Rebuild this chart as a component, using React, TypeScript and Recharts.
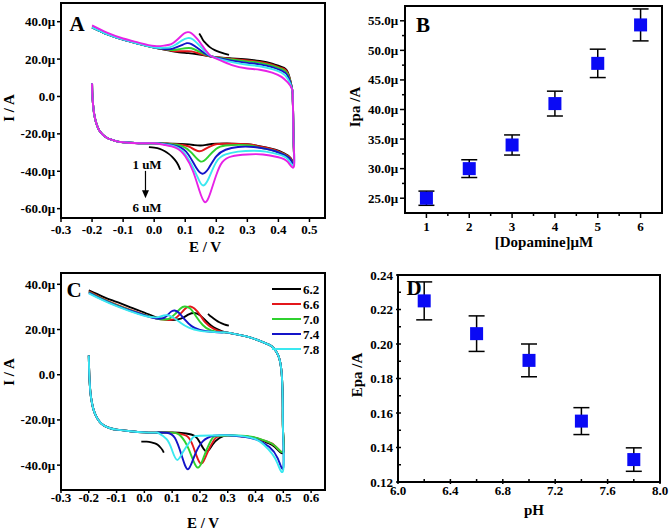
import React from 'react';
import { ComposedChart, ScatterChart, Line, Scatter, XAxis, YAxis, ReferenceArea, ErrorBar, Legend } from 'recharts';

const FONT = '"Liberation Serif", "Times New Roman", Times, serif';
type P = [number, number];
const toPts = (a: P[]) => a.map(([x, y]) => ({ x, y }));

// ---------- colours ----------
const BLACK = '#000000';
const RED = '#e3171b';
const GREEN = '#2fd12f';
const BLUE = '#1414c8';
const CYAN = '#3ae8f0';
const MAGENTA = '#e622e6';
const CURVE = 'natural';

// ---------- Panel A : CV at 1..6 uM dopamine (E / V, I / uA) ----------
const A_X_DOMAIN: [number, number] = [-0.3, 0.55];
const A_Y_DOMAIN: [number, number] = [-65, 50];
const A_X_TICKS = [-0.3, -0.2, -0.1, 0, 0.1, 0.2, 0.3, 0.4, 0.5];
const A_Y_TICKS = [-60, -40, -20, 0, 20, 40];

const A_LOW_START: P[] = [[-0.2, 7], [-0.199, 1], [-0.197, -4], [-0.194, -8.5], [-0.19, -12], [-0.185, -15], [-0.178, -17.8], [-0.168, -20], [-0.155, -21.8], [-0.14, -23], [-0.12, -24], [-0.1, -24.5], [-0.05, -25], [0.0, -25]];
const A_RISE: P[] = [[0.449, -25], [0.448, -15], [0.447, -6], [0.446, 0], [0.444, 4]];
const A_UP_END: P[] = [[0.0, 26.2], [-0.05, 28.2], [-0.1, 30.4], [-0.15, 33.2], [-0.2, 37]];

const A_BLACK: P[] = [...A_LOW_START, [0.05, -25.2], [0.1, -25.5], [0.13, -26], [0.15, -26.2], [0.17, -25.8], [0.2, -25.3], [0.25, -25.2], [0.3, -25.5], [0.33, -26.3], [0.36, -27.3], [0.39, -28.5], [0.42, -30.5], [0.44, -33], [0.45, -35], ...A_RISE,
  [0.43, 13], [0.41, 15.8], [0.38, 17.6], [0.34, 19], [0.3, 19.8], [0.25, 20.4], [0.2, 21], [0.17, 21.8], [0.14, 22.6], [0.11, 23.2], [0.08, 23.6], [0.05, 24.5], ...A_UP_END];
const A_RED: P[] = [...A_LOW_START, [0.05, -25.3], [0.1, -26.2], [0.12, -27.5], [0.145, -29.3], [0.165, -28], [0.19, -26], [0.22, -25.3], [0.3, -25.5], [0.33, -26.4], [0.36, -27.4], [0.39, -28.7], [0.42, -30.8], [0.44, -33.3], [0.45, -35.5], ...A_RISE,
  [0.43, 12.5], [0.41, 15.2], [0.38, 17], [0.34, 18.5], [0.3, 19.3], [0.25, 20.1], [0.2, 21], [0.17, 21.8], [0.145, 23], [0.12, 24.1], [0.1, 24.2], [0.07, 24.2], [0.05, 24.7], ...A_UP_END];
const A_GREEN: P[] = [...A_LOW_START, [0.05, -25.4], [0.09, -26.5], [0.12, -30], [0.15, -34.8], [0.175, -32], [0.2, -28], [0.23, -26.2], [0.3, -26], [0.33, -27], [0.36, -28], [0.39, -29.2], [0.42, -31.2], [0.44, -33.8], [0.45, -36], ...A_RISE,
  [0.43, 12], [0.41, 14.7], [0.38, 16.5], [0.34, 18], [0.3, 18.8], [0.25, 19.8], [0.2, 20.9], [0.17, 22], [0.145, 24], [0.12, 25.8], [0.1, 25.8], [0.07, 25], [0.05, 25], ...A_UP_END];
const A_BLUE: P[] = [...A_LOW_START, [0.04, -25.5], [0.08, -27], [0.11, -31], [0.135, -38], [0.155, -41.3], [0.175, -38.5], [0.2, -32], [0.23, -28.5], [0.27, -27], [0.32, -27], [0.36, -28], [0.39, -29.3], [0.42, -31.4], [0.44, -34], [0.45, -36], ...A_RISE,
  [0.43, 11], [0.41, 13.8], [0.38, 15.7], [0.34, 17.2], [0.3, 18], [0.25, 19.2], [0.2, 20.7], [0.17, 22.3], [0.145, 25.3], [0.12, 28], [0.105, 28.5], [0.085, 27.2], [0.06, 25.6], [0.04, 25.3], ...A_UP_END];
const A_CYAN: P[] = [...A_LOW_START, [0.03, -25.5], [0.07, -27], [0.1, -31], [0.125, -38], [0.145, -45], [0.158, -47.6], [0.175, -44], [0.2, -35], [0.23, -31], [0.27, -29.5], [0.32, -29], [0.36, -29.5], [0.4, -31], [0.43, -33.5], [0.45, -36.5], ...A_RISE,
  [0.43, 9.5], [0.41, 12.7], [0.38, 14.6], [0.34, 16.2], [0.3, 17], [0.25, 18.4], [0.2, 20.5], [0.175, 22.4], [0.15, 26.5], [0.125, 30.5], [0.108, 31.2], [0.09, 30], [0.07, 27.8], [0.05, 26.3], [0.03, 26], ...A_UP_END];
const A_MAGENTA: P[] = [...A_LOW_START, [0.03, -25.8], [0.07, -27.5], [0.1, -32], [0.125, -40], [0.145, -50], [0.163, -56.5], [0.18, -52], [0.2, -42], [0.22, -35], [0.25, -32], [0.3, -31], [0.35, -31], [0.4, -32.5], [0.43, -35], [0.45, -37.5], ...A_RISE,
  [0.43, 7.5], [0.41, 10.5], [0.38, 12.8], [0.34, 14.3], [0.3, 15], [0.25, 16.8], [0.2, 20.3], [0.18, 22], [0.16, 26], [0.14, 30.5], [0.12, 33.8], [0.108, 34.4], [0.095, 33.5], [0.075, 30.5], [0.055, 28], [0.035, 27.3], [0.0, 27], [-0.05, 28.8], [-0.1, 31], [-0.15, 34], [-0.2, 38]];

const A_SERIES = [
  { name: '1 uM', color: BLACK, pts: A_BLACK },
  { name: '2 uM', color: RED, pts: A_RED },
  { name: '3 uM', color: GREEN, pts: A_GREEN },
  { name: '4 uM', color: BLUE, pts: A_BLUE },
  { name: '5 uM', color: CYAN, pts: A_CYAN },
  { name: '6 uM', color: MAGENTA, pts: A_MAGENTA },
];
const A_ARROW_UP: P[] = [[0.145, 33.7], [0.152, 31.8], [0.158, 30], [0.167, 28.3], [0.179, 26.4], [0.195, 24.8], [0.211, 23.7], [0.226, 22.9], [0.241, 22.3]];
const A_ARROW_LOW: P[] = [[-0.017, -27.1], [0.0, -27.4], [0.018, -28], [0.033, -29.2], [0.047, -30.7], [0.058, -32.3], [0.068, -34.2], [0.077, -36.5], [0.084, -39.2]];
const A_ARROW_VERT: P[] = [[-0.028, -39.8], [-0.028, -52]];
const A_ARROW_HEAD: P[] = [[-0.028, -54.5]];

// ---------- Panel B : Ipa vs [Dopamine] ----------
const B_CONC = [1, 2, 3, 4, 5, 6];
const B_IPA = [25.0, 30.0, 34.0, 41.0, 47.8, 54.3];
const B_ERR = [1.2, 1.5, 1.7, 2.1, 2.4, 2.7];
const B_X_DOMAIN: [number, number] = [0.5, 6.5];
const B_Y_DOMAIN: [number, number] = [22.5, 57.5];
const B_X_MAJOR = [1, 2, 3, 4, 5, 6];
const B_X_MINOR = [1.5, 2.5, 3.5, 4.5, 5.5];
const B_Y_MAJOR = [25, 30, 35, 40, 45, 50, 55];
const B_Y_MINOR = [27.5, 32.5, 37.5, 42.5, 47.5, 52.5];

// ---------- Panel C : CV at different pH ----------
const C_X_DOMAIN: [number, number] = [-0.3, 0.65];
const C_Y_DOMAIN: [number, number] = [-51, 45];
const C_X_TICKS = [-0.3, -0.2, -0.1, 0, 0.1, 0.2, 0.3, 0.4, 0.5, 0.6];
const C_Y_TICKS = [-40, -20, 0, 20, 40];
const C_LABELS = ['6.2', '6.6', '7.0', '7.4', '7.8'];
const C_COLORS = [BLACK, RED, GREEN, BLUE, CYAN];

const C_LOW_START: P[] = [[-0.2, 8.5], [-0.199, 3], [-0.197, -3], [-0.194, -8], [-0.19, -11.5], [-0.184, -15], [-0.175, -18], [-0.163, -20.5], [-0.145, -22.5], [-0.12, -23.8], [-0.1, -24.3], [-0.05, -25], [0.0, -25.5], [0.04, -25.6]];
const C_RISE: P[] = [[0.499, -25], [0.498, -15], [0.497, -7], [0.495, -1], [0.492, 3], [0.487, 6.5], [0.478, 9.5], [0.465, 11.8], [0.45, 13.2], [0.42, 14.8], [0.38, 16.5], [0.35, 17.4], [0.3, 18.6]];

const C_62: P[] = [...C_LOW_START, [0.1, -25.5], [0.15, -26], [0.18, -27], [0.2, -30], [0.223, -34], [0.245, -31], [0.27, -28], [0.3, -26.8], [0.35, -27.2], [0.4, -28], [0.44, -30], [0.47, -32], [0.5, -34.5], ...C_RISE,
  [0.28, 19.2], [0.26, 20.3], [0.24, 21.8], [0.22, 24], [0.2, 26.3], [0.18, 27.3], [0.16, 26.7], [0.14, 25.3], [0.12, 24.5], [0.1, 24.2], [0.07, 24.6], [0.04, 25.5], [0.0, 27.5], [-0.05, 29.8], [-0.1, 32.2], [-0.15, 34.6], [-0.2, 37.3]];
const C_66: P[] = [...C_LOW_START, [0.1, -25.6], [0.14, -26.5], [0.17, -30], [0.2, -39], [0.225, -35], [0.25, -29], [0.28, -27], [0.35, -27.2], [0.4, -28], [0.44, -29.5], [0.47, -31.5], [0.5, -34], ...C_RISE,
  [0.28, 19], [0.25, 20.3], [0.22, 23], [0.2, 26.5], [0.18, 29.3], [0.165, 30.2], [0.15, 29.5], [0.13, 27], [0.11, 24.8], [0.09, 24.2], [0.06, 24.5], [0.03, 25.3], [0.0, 26.6], [-0.05, 28.7], [-0.1, 31], [-0.15, 33.7], [-0.2, 36.9]];
const C_70: P[] = [...C_LOW_START, [0.1, -25.6], [0.13, -27], [0.16, -33], [0.19, -41], [0.215, -36], [0.24, -29], [0.27, -27], [0.35, -27], [0.4, -27.8], [0.44, -29.5], [0.47, -31.5], [0.5, -34], ...C_RISE,
  [0.28, 18.8], [0.24, 19.6], [0.21, 22], [0.185, 26], [0.165, 29.3], [0.145, 30.2], [0.13, 29.3], [0.11, 26.8], [0.09, 24.8], [0.07, 24.4], [0.04, 25], [0.0, 26.5], [-0.05, 28.5], [-0.1, 30.8], [-0.15, 33.5], [-0.2, 36.6]];
const C_74: P[] = [...C_LOW_START, [0.08, -25.7], [0.11, -28], [0.135, -36], [0.157, -41.8], [0.18, -36], [0.21, -29.5], [0.25, -27], [0.3, -26.8], [0.36, -27.5], [0.41, -29], [0.45, -32], [0.48, -37], [0.5, -41], ...C_RISE,
  [0.28, 18.7], [0.24, 19], [0.2, 19.8], [0.17, 21.5], [0.145, 24.5], [0.125, 27.3], [0.109, 28.4], [0.095, 27.8], [0.08, 26], [0.06, 24.8], [0.03, 25.2], [0.0, 26.3], [-0.05, 28.3], [-0.1, 30.6], [-0.15, 33.2], [-0.2, 36.3]];
const C_78: P[] = [...C_LOW_START, [0.05, -25.8], [0.08, -28.5], [0.1, -33.5], [0.118, -37.7], [0.14, -34], [0.17, -28.5], [0.2, -27], [0.3, -26.8], [0.36, -27.3], [0.4, -28.5], [0.43, -31], [0.46, -35], [0.48, -39.5], [0.5, -42], ...C_RISE,
  [0.28, 18.7], [0.24, 19], [0.2, 19.4], [0.16, 20.8], [0.13, 23], [0.105, 25.2], [0.085, 26.3], [0.07, 26.2], [0.05, 25.5], [0.03, 25.4], [0.0, 26], [-0.05, 28], [-0.1, 30.3], [-0.15, 33], [-0.2, 36]];
const C_SERIES_PTS = [C_62, C_66, C_70, C_74, C_78];
const C_ARROW_UP: P[] = [[0.229, 26.9], [0.237, 26], [0.247, 25.1], [0.258, 24.1], [0.27, 23.2], [0.287, 22.3], [0.304, 21.7]];
const C_ARROW_LOW: P[] = [[-0.011, -29.6], [0.008, -29.6], [0.025, -29.9], [0.038, -30.4], [0.049, -31.1], [0.058, -32.2], [0.065, -33.3], [0.07, -34.5]];

// ---------- Panel D : Epa vs pH ----------
const D_PH = [6.2, 6.6, 7.0, 7.4, 7.8];
const D_EPA = [0.225, 0.206, 0.1905, 0.1553, 0.133];
const D_ERR = [0.011, 0.0103, 0.0095, 0.0078, 0.0068];
const D_X_DOMAIN: [number, number] = [6.0, 8.0];
const D_Y_DOMAIN: [number, number] = [0.12, 0.24];
const D_X_MAJOR = [6.0, 6.4, 6.8, 7.2, 7.6, 8.0];
const D_X_MINOR = [6.2, 6.6, 7.0, 7.4, 7.8];
const D_Y_MAJOR = [0.12, 0.14, 0.16, 0.18, 0.2, 0.22, 0.24];
const D_Y_MINOR = [0.13, 0.15, 0.17, 0.19, 0.21, 0.23];

// ---------- helpers ----------
const near = (arr: number[], v: number) => arr.some((m) => Math.abs(m - v) < 1e-6);
const fmtV = (v: number) => (Math.abs(v) < 1e-9 ? '0.0' : v.toFixed(1));
const fmtMu = (v: number) => (Math.abs(v) < 1e-9 ? '0.0' : `${v.toFixed(1)}μ`);

type TickOpt = { major: number; minor: number; inner?: number; gap: number };

function xTick(majors: number[], fmt: (v: number) => string, o: TickOpt) {
  return (props: any) => {
    const { x, y, payload } = props;
    const v = payload.value;
    const isMajor = near(majors, v);
    return (
      <g>
        <line x1={x} x2={x} y1={y - (o.inner || 0)} y2={y + (isMajor ? o.major : o.minor)} stroke="#000" strokeWidth={1.5} />
        {isMajor ? (
          <text x={x} y={y + o.gap} textAnchor="middle" fontFamily={FONT} fontWeight="bold" fontSize={13} fill="#000">
            {fmt(v)}
          </text>
        ) : null}
      </g>
    );
  };
}

function yTick(majors: number[], fmt: (v: number) => string, o: TickOpt) {
  return (props: any) => {
    const { x, y, payload } = props;
    const v = payload.value;
    const isMajor = near(majors, v);
    return (
      <g>
        <line x1={x + (o.inner || 0)} x2={x - (isMajor ? o.major : o.minor)} y1={y} y2={y} stroke="#000" strokeWidth={1.5} />
        {isMajor ? (
          <text x={x - o.gap} y={y} dy="0.35em" textAnchor="end" fontFamily={FONT} fontWeight="bold" fontSize={13} fill="#000">
            {fmt(v)}
          </text>
        ) : null}
      </g>
    );
  };
}

const DownHead = (p: any) => <path d={`M${p.cx - 3.5},${p.cy - 8} L${p.cx + 3.5},${p.cy - 8} L${p.cx},${p.cy} Z`} fill="#000" />;
const Square = (p: any) => <rect x={p.cx - 6.5} y={p.cy - 6.5} width={13} height={13} fill="#0a0af5" />;

// ---------- panels ----------
function PanelA() {
  return (
    <ComposedChart width={340} height={260} margin={{ top: 3, right: 15, bottom: 12, left: 0 }}>
      <XAxis type="number" dataKey="x" domain={A_X_DOMAIN} ticks={A_X_TICKS} interval={0} allowDataOverflow
        tickSize={0} tickMargin={0} axisLine={false} tickLine={false} height={30}
        tick={xTick(A_X_TICKS, fmtV, { major: 4, minor: 0, gap: 16 })} />
      <YAxis type="number" dataKey="y" domain={A_Y_DOMAIN} ticks={A_Y_TICKS} interval={0} allowDataOverflow
        tickSize={0} tickMargin={0} axisLine={false} tickLine={false} width={61}
        tick={yTick(A_Y_TICKS, fmtMu, { major: 4, minor: 0, gap: 6 })} />
      <ReferenceArea x1={A_X_DOMAIN[0]} x2={A_X_DOMAIN[1]} y1={A_Y_DOMAIN[0]} y2={A_Y_DOMAIN[1]} fill="none" fillOpacity={0} stroke="#000" strokeWidth={2} strokeOpacity={1} />
      {A_SERIES.map((s) => (
        <Line key={s.name} data={toPts(s.pts)} dataKey="y" name={s.name} type={CURVE} stroke={s.color} strokeWidth={1.9} dot={false} activeDot={false} isAnimationActive={false} legendType="none" />
      ))}
      <Line data={toPts(A_ARROW_UP)} dataKey="y" type={CURVE} stroke="#000" strokeWidth={1.8} dot={false} isAnimationActive={false} legendType="none" />
      <Line data={toPts(A_ARROW_LOW)} dataKey="y" type={CURVE} stroke="#000" strokeWidth={1.8} dot={false} isAnimationActive={false} legendType="none" />
      <Line data={toPts(A_ARROW_VERT)} dataKey="y" type="linear" stroke="#000" strokeWidth={1.2} dot={false} isAnimationActive={false} legendType="none" />
      <Scatter data={toPts(A_ARROW_HEAD)} dataKey="y" shape={DownHead} isAnimationActive={false} legendType="none" />
    </ComposedChart>
  );
}

function PanelB() {
  const data = B_CONC.map((x, i) => ({ x, y: B_IPA[i], err: B_ERR[i] }));
  const ticksX = [...B_X_MAJOR, ...B_X_MINOR].sort((a, b) => a - b);
  const ticksY = [...B_Y_MAJOR, ...B_Y_MINOR].sort((a, b) => a - b);
  return (
    <ScatterChart width={339} height={260} margin={{ top: 6, right: 7, bottom: 17, left: 0 }}>
      <XAxis type="number" dataKey="x" domain={B_X_DOMAIN} ticks={ticksX} interval={0} allowDataOverflow
        tickSize={0} tickMargin={0} axisLine={false} tickLine={false} height={30}
        tick={xTick(B_X_MAJOR, (v) => String(v), { major: 5, minor: 3, gap: 18 })} />
      <YAxis type="number" dataKey="y" domain={B_Y_DOMAIN} ticks={ticksY} interval={0} allowDataOverflow
        tickSize={0} tickMargin={0} axisLine={false} tickLine={false} width={75}
        tick={yTick(B_Y_MAJOR, fmtMu, { major: 5, minor: 3, gap: 7 })} />
      <ReferenceArea x1={B_X_DOMAIN[0]} x2={B_X_DOMAIN[1]} y1={B_Y_DOMAIN[0]} y2={B_Y_DOMAIN[1]} fill="none" fillOpacity={0} stroke="#000" strokeWidth={2} strokeOpacity={1} />
      <Scatter data={data} dataKey="y" shape={Square} isAnimationActive={false}>
        <ErrorBar dataKey="err" direction="y" width={8} stroke="#000" strokeWidth={1.5} />
      </Scatter>
    </ScatterChart>
  );
}

function PanelC() {
  return (
    <ComposedChart width={340} height={270} margin={{ top: 13, right: 15, bottom: 10, left: 0 }}>
      <XAxis type="number" dataKey="x" domain={C_X_DOMAIN} ticks={C_X_TICKS} interval={0} allowDataOverflow
        tickSize={0} tickMargin={0} axisLine={false} tickLine={false} height={30}
        tick={xTick(C_X_TICKS, fmtV, { major: 3, minor: 0, gap: 12 })} />
      <YAxis type="number" dataKey="y" domain={C_Y_DOMAIN} ticks={C_Y_TICKS} interval={0} allowDataOverflow
        tickSize={0} tickMargin={0} axisLine={false} tickLine={false} width={61}
        tick={yTick(C_Y_TICKS, fmtMu, { major: 4, minor: 0, gap: 6 })} />
      <ReferenceArea x1={C_X_DOMAIN[0]} x2={C_X_DOMAIN[1]} y1={C_Y_DOMAIN[0]} y2={C_Y_DOMAIN[1]} fill="none" fillOpacity={0} stroke="#000" strokeWidth={2} strokeOpacity={1} />
      {C_SERIES_PTS.map((pts, i) => (
        <Line key={C_LABELS[i]} data={toPts(pts)} dataKey="y" name={C_LABELS[i]} type={CURVE} stroke={C_COLORS[i]} strokeWidth={1.9} dot={false} activeDot={false} isAnimationActive={false} />
      ))}
      <Line data={toPts(C_ARROW_UP)} dataKey="y" type={CURVE} stroke="#000" strokeWidth={1.8} dot={false} isAnimationActive={false} legendType="none" />
      <Line data={toPts(C_ARROW_LOW)} dataKey="y" type={CURVE} stroke="#000" strokeWidth={1.8} dot={false} isAnimationActive={false} legendType="none" />
      <Legend layout="vertical" align="center" verticalAlign="middle"
        wrapperStyle={{ position: 'absolute', left: 270, top: 21, width: 62, height: 80 }}
        content={() => (
          <svg width={62} height={80} style={{ display: 'block' }}>
            {C_LABELS.map((lab, i) => (
              <g key={lab}>
                <line x1={2} x2={31} y1={8 + i * 15} y2={8 + i * 15} stroke={C_COLORS[i]} strokeWidth={2} />
                <text x={33} y={8 + i * 15} dy="0.35em" fontFamily={FONT} fontWeight="bold" fontSize={13} fill="#000">{lab}</text>
              </g>
            ))}
          </svg>
        )} />
    </ComposedChart>
  );
}

function PanelD() {
  const data = D_PH.map((x, i) => ({ x, y: D_EPA[i], err: D_ERR[i] }));
  const ticksX = [...D_X_MAJOR, ...D_X_MINOR].sort((a, b) => a - b);
  const ticksY = [...D_Y_MAJOR, ...D_Y_MINOR].sort((a, b) => a - b);
  return (
    <ScatterChart width={339} height={270} margin={{ top: 15, right: 9, bottom: 18, left: 0 }}>
      <XAxis type="number" dataKey="x" domain={D_X_DOMAIN} ticks={ticksX} interval={0} allowDataOverflow
        tickSize={0} tickMargin={0} axisLine={false} tickLine={false} height={30}
        tick={xTick(D_X_MAJOR, (v) => v.toFixed(1), { major: 2, minor: 0, inner: 3, gap: 13 })} />
      <YAxis type="number" dataKey="y" domain={D_Y_DOMAIN} ticks={ticksY} interval={0} allowDataOverflow
        tickSize={0} tickMargin={0} axisLine={false} tickLine={false} width={68}
        tick={yTick(D_Y_MAJOR, (v) => v.toFixed(2), { major: 2, minor: 0, inner: 3, gap: 5 })} />
      <ReferenceArea x1={D_X_DOMAIN[0]} x2={D_X_DOMAIN[1]} y1={D_Y_DOMAIN[0]} y2={D_Y_DOMAIN[1]} fill="none" fillOpacity={0} stroke="#000" strokeWidth={2} strokeOpacity={1} />
      <Scatter data={data} dataKey="y" shape={Square} isAnimationActive={false}>
        <ErrorBar dataKey="err" direction="y" width={8} stroke="#000" strokeWidth={1.5} />
      </Scatter>
    </ScatterChart>
  );
}

const T = (p: { x: number; y: number; size: number; rot?: boolean; children: React.ReactNode }) => (
  <text
    x={p.rot ? 0 : p.x}
    y={p.rot ? 0 : p.y}
    transform={p.rot ? `translate(${p.x},${p.y}) rotate(-90)` : undefined}
    textAnchor="middle"
    dominantBaseline="central"
    fontFamily={FONT}
    fontWeight="bold"
    fontSize={p.size}
    fill="#000"
  >
    {p.children}
  </text>
);

export default function App() {
  return (
    <div style={{ position: 'absolute', left: 0, top: 0, width: 669, height: 530, background: '#fff', overflow: 'hidden' }}>
      <div style={{ position: 'absolute', left: 0, top: 0 }}><PanelA /></div>
      <div style={{ position: 'absolute', left: 330, top: 0 }}><PanelB /></div>
      <div style={{ position: 'absolute', left: 0, top: 260 }}><PanelC /></div>
      <div style={{ position: 'absolute', left: 330, top: 260 }}><PanelD /></div>
      <svg width={669} height={530} style={{ position: 'absolute', left: 0, top: 0, pointerEvents: 'none' }}>
        <T x={77} y={24} size={21}>A</T>
        <T x={423} y={25} size={21}>B</T>
        <T x={74} y={290} size={21}>C</T>
        <T x={414} y={288} size={21}>D</T>
        <T x={147} y={164} size={13}>1 uM</T>
        <T x={147} y={207} size={13}>6 uM</T>
        <T x={9} y={108} size={15} rot>I / A</T>
        <T x={205} y={247} size={15}>E / V</T>
        <T x={355} y={107} size={15} rot>Ipa /A</T>
        <T x={544} y={242} size={15}>[Dopamine]μM</T>
        <T x={9} y={372} size={15} rot>I / A</T>
        <T x={203} y={523} size={15}>E / V</T>
        <T x={357} y={375} size={15} rot>Epa /A</T>
        <T x={534} y={510} size={15}>pH</T>
      </svg>
    </div>
  );
}
